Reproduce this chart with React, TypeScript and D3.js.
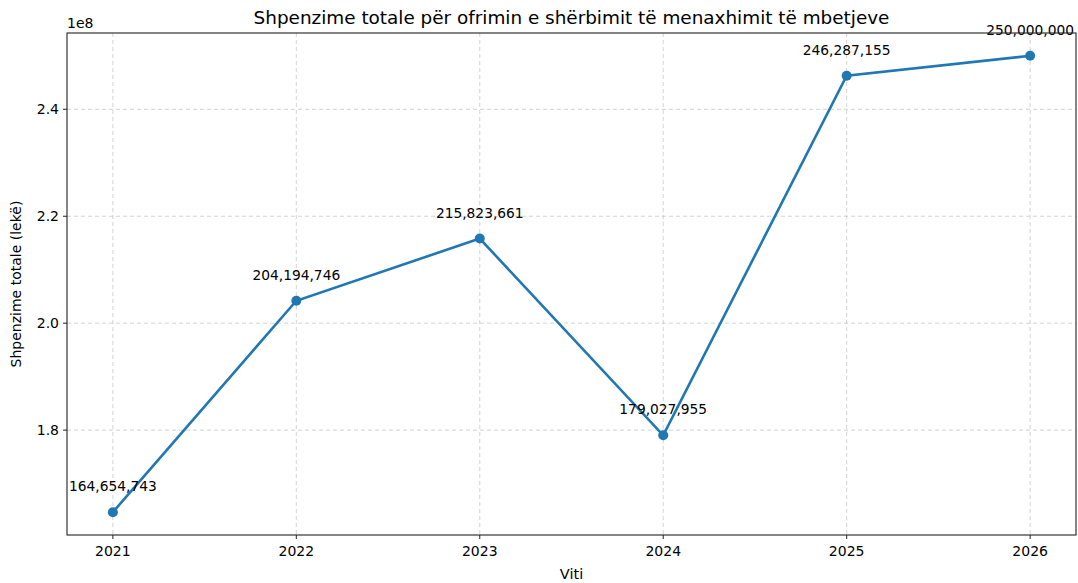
import React from 'react';
import * as d3 from 'd3';

const years = [2021, 2022, 2023, 2024, 2025, 2026];
const totals = [164654743, 204194746, 215823661, 179027955, 246287155, 250000000];
const yTicks = [1.8e8, 2.0e8, 2.2e8, 2.4e8];

const W = 1078;
const H = 583;
const m = { left: 67, right: 2, top: 33, bottom: 48 };
const font = 'DejaVu Sans, sans-serif';
const blue = '#1f77b4';

export default function App() {
  const xScale = d3.scaleLinear()
    .domain([2021 - 0.25, 2026 + 0.25])
    .range([m.left, W - m.right]);

  const lo = d3.min(totals)!;
  const hi = d3.max(totals)!;
  const pad = (hi - lo) * 0.05;
  const yScale = d3.scaleLinear()
    .domain([lo - pad, hi + pad])
    .range([H - m.bottom, m.top]);

  const line = d3.line<number>()
    .x((d, i) => xScale(years[i]))
    .y((d) => yScale(d));

  const fmt = d3.format(',');
  const bottom = H - m.bottom;

  return (
    <svg width={W} height={H} style={{ position: 'absolute', left: 0, top: 0 }} fontFamily={font}>
      <rect width={W} height={H} fill="#fff" />
      {/* grid */}
      {years.map((y) => (
        <line key={'gx' + y} x1={xScale(y)} x2={xScale(y)} y1={m.top} y2={bottom}
          stroke="#b0b0b0" strokeOpacity={0.7} strokeDasharray="4,3" strokeWidth={0.8} />
      ))}
      {yTicks.map((t) => (
        <line key={'gy' + t} x1={m.left} x2={W - m.right} y1={yScale(t)} y2={yScale(t)}
          stroke="#b0b0b0" strokeOpacity={0.7} strokeDasharray="4,3" strokeWidth={0.8} />
      ))}
      {/* line + markers */}
      <path d={line(totals)!} fill="none" stroke={blue} strokeWidth={2.6} />
      {totals.map((v, i) => (
        <circle key={'c' + i} cx={xScale(years[i])} cy={yScale(v)} r={5} fill={blue} />
      ))}
      {totals.map((v, i) => (
        <text key={'l' + i} x={xScale(years[i])} y={yScale(v) - 21} textAnchor="middle"
          fontSize={13.8} fill="#000">{fmt(v)}</text>
      ))}
      {/* frame */}
      <rect x={m.left} y={m.top} width={W - m.right - m.left} height={bottom - m.top}
        fill="none" stroke="#222" strokeWidth={1.1} />
      {/* x ticks */}
      {years.map((y) => (
        <g key={'tx' + y} transform={`translate(${xScale(y)},${bottom})`}>
          <line y2={4} stroke="#222" />
          <text y={21} textAnchor="middle" fontSize={14}>{y}</text>
        </g>
      ))}
      {/* y ticks */}
      {yTicks.map((t) => (
        <g key={'ty' + t} transform={`translate(${m.left},${yScale(t)})`}>
          <line x2={-4} stroke="#222" />
          <text x={-8} dy="0.35em" textAnchor="end" fontSize={14}>{(t / 1e8).toFixed(1)}</text>
        </g>
      ))}
      <text x={m.left} y={m.top - 5} fontSize={14}>1e8</text>
      <text x={(m.left + W - m.right) / 2} y={24} textAnchor="middle" fontSize={18.4}>
        Shpenzime totale për ofrimin e shërbimit të menaxhimit të mbetjeve
      </text>
      <text x={(m.left + W - m.right) / 2} y={579} textAnchor="middle" fontSize={14.5}>Viti</text>
      <text transform={`translate(21,${(m.top + bottom) / 2}) rotate(-90)`} textAnchor="middle"
        fontSize={14}>Shpenzime totale (lekë)</text>
    </svg>
  );
}
